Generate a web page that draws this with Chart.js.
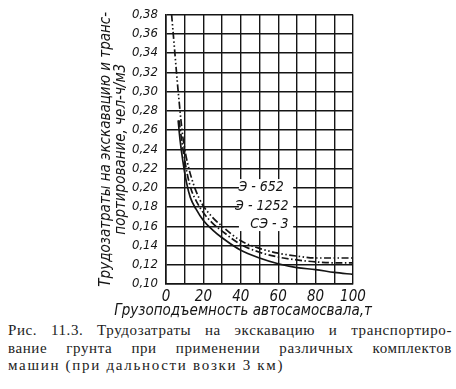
<!DOCTYPE html>
<html>
<head>
<meta charset="utf-8">
<script src="https://cdn.jsdelivr.net/npm/chart.js@4"></script>
<style>
  html, body { margin: 0; padding: 0; background: #fff; }
  #wrap { position: relative; width: 456px; height: 389px; overflow: hidden; }
  #box { position: absolute; left: 0; top: 0; width: 456px; height: 320px; }
  .cap {
    position: absolute; left: 8px; width: 444px;
    font-family: "Liberation Serif", serif; font-size: 15px; color: #222;
    letter-spacing: 0.6px; white-space: nowrap;
  }
  .just { text-align: justify; text-align-last: justify; white-space: normal; }
</style>
</head>
<body>
<div id="wrap">
  <div id="box"><canvas id="grafico" width="456" height="320"></canvas></div>
  <div class="cap just" style="top:322px">Рис. 11.3. Трудозатраты на экскавацию и транспортиро-</div>
  <div class="cap just" style="top:340px">вание грунта при применении различных комплектов</div>
  <div class="cap" style="top:357px; letter-spacing:1.7px">машин (при дальности возки 3 км)</div>
</div>
<script>
// Э-652 (штрих-две точки)
const xE652 = [3, 4, 5, 6, 7, 8, 9, 10.5, 12.5, 15, 17.5, 20, 25, 30, 40, 50, 60, 70, 80, 90, 100];
const yE652 = [0.38, 0.357, 0.334, 0.311, 0.29, 0.27, 0.253, 0.235, 0.218, 0.202, 0.19, 0.181, 0.169, 0.160, 0.145, 0.137, 0.132, 0.129, 0.127, 0.127, 0.127];
// Э-1252 (штрих-точка)
const xE1252 = [7, 8, 9.5, 11.5, 13.5, 16, 20, 25, 30, 40, 50, 60, 70, 80, 90, 100];
const yE1252 = [0.27, 0.255, 0.235, 0.213, 0.198, 0.187, 0.174, 0.163, 0.155, 0.141, 0.133, 0.128, 0.125, 0.123, 0.122, 0.122];
// СЭ-3 (сплошная)
const xSE3 = [6.5, 7.5, 9, 11, 13, 16, 20, 25, 30, 40, 50, 60, 70, 80, 90, 100];
const ySE3 = [0.27, 0.25, 0.228, 0.205, 0.19, 0.178, 0.166, 0.156, 0.148, 0.135, 0.127, 0.121, 0.117, 0.115, 0.112, 0.110];

const etiquetas = ['Э-652', 'Э-1252', 'СЭ-3'];
// punto de anclaje (borde derecho) de cada etiqueta en unidades de datos
const etiquetasX = [63, 65.5, 65.5];
const etiquetasY = [0.200, 0.181, 0.162];

const yMin = 0.10, yMax = 0.38, yPaso = 0.02;
const xMin = 0, xMax = 100, xPaso = 10;
const tituloX = 'Грузоподъемность автосамосвала,т';
const tituloY = ['Трудозатраты на экскавацию и транс-', 'портирование, чел-ч/м3'];

const tinta = '#151515';
const fuente = '"DejaVu Sans Condensed", sans-serif';

const puntos = (xs, ys) => xs.map((x, i) => ({ x: x, y: ys[i] }));

const dataSet = (label, data, dash) => {
    return {
        label: label,
        data: data,
        borderColor: tinta,
        borderWidth: 1.7,
        borderDash: dash,
        pointRadius: 0,
        fill: false,
        cubicInterpolationMode: 'monotone'
    }
}

const rotulos = {
    id: 'rotulos',
    beforeDatasetsDraw(chart) {
        const ctx = chart.ctx;
        const sx = chart.scales.x, sy = chart.scales.y;
        ctx.save();
        // fondo blanco detrás de las etiquetas
        const x0 = sx.getPixelForValue(39), x1 = sx.getPixelForValue(68);
        const y0 = sy.getPixelForValue(0.209), y1 = sy.getPixelForValue(0.155);
        ctx.fillStyle = '#fff';
        ctx.fillRect(x0, y0, x1 - x0, y1 - y0);
        ctx.fillStyle = tinta;
        ctx.font = 'italic 14px ' + fuente;
        ctx.textAlign = 'right';
        ctx.textBaseline = 'middle';
        etiquetas.forEach((t, i) => {
            ctx.fillText(t.replace('-', ' - '), sx.getPixelForValue(etiquetasX[i]), sy.getPixelForValue(etiquetasY[i]));
        });
        ctx.restore();
    },
    afterDraw(chart) {
        const ctx = chart.ctx;
        const area = chart.chartArea;
        ctx.save();
        ctx.fillStyle = tinta;
        ctx.font = 'italic 15px ' + fuente;
        ctx.textAlign = 'center';
        ctx.textBaseline = 'middle';
        ctx.fillText(tituloX, area.left + 77, area.bottom + 27);
        ctx.restore();
    }
};

new Chart(document.getElementById('grafico'), {
    type: 'line',
    data: {
        datasets: [
            dataSet(etiquetas[0], puntos(xE652, yE652), [7, 2.5, 1.5, 2.5, 1.5, 2.5]),
            dataSet(etiquetas[1], puntos(xE1252, yE1252), [7, 2.5, 1.5, 2.5]),
            dataSet(etiquetas[2], puntos(xSE3, ySE3), [])
        ]
    },
    plugins: [rotulos],
    options: {
        responsive: false,
        animation: false,
        layout: { padding: { left: 0, right: 103, top: 11, bottom: 0 } },
        plugins: { legend: { display: false }, tooltip: { enabled: false } },
        scales: {
            x: {
                type: 'linear',
                min: xMin, max: xMax,
                afterFit: (s) => { s.height = 36; },
                ticks: {
                    stepSize: xPaso,
                    autoSkip: false,
                    maxRotation: 0,
                    padding: 4,
                    color: tinta,
                    font: { family: fuente, size: 15, style: 'italic' },
                    callback: (v) => v % 20 === 0 ? String(v) : ''
                },
                grid: { color: tinta, lineWidth: 1.4, drawTicks: false },
                border: { color: tinta, width: 1.6 }
            },
            y: {
                min: yMin, max: yMax,
                afterFit: (s) => { s.width = 166; },
                ticks: {
                    stepSize: yPaso,
                    autoSkip: false,
                    padding: 8,
                    color: tinta,
                    font: { family: fuente, size: 13, style: 'italic', lineHeight: 1.0 },
                    callback: (v) => v.toFixed(2).replace('.', ',')
                },
                grid: { color: tinta, lineWidth: 1.4, drawTicks: false },
                border: { color: tinta, width: 1.6 },
                title: {
                    display: true,
                    text: tituloY,
                    color: tinta,
                    font: { family: fuente, size: 15, style: 'italic', lineHeight: 1.0 },
                    padding: { top: 99, bottom: 0 }
                }
            }
        }
    }
});
</script>
</body>
</html>
